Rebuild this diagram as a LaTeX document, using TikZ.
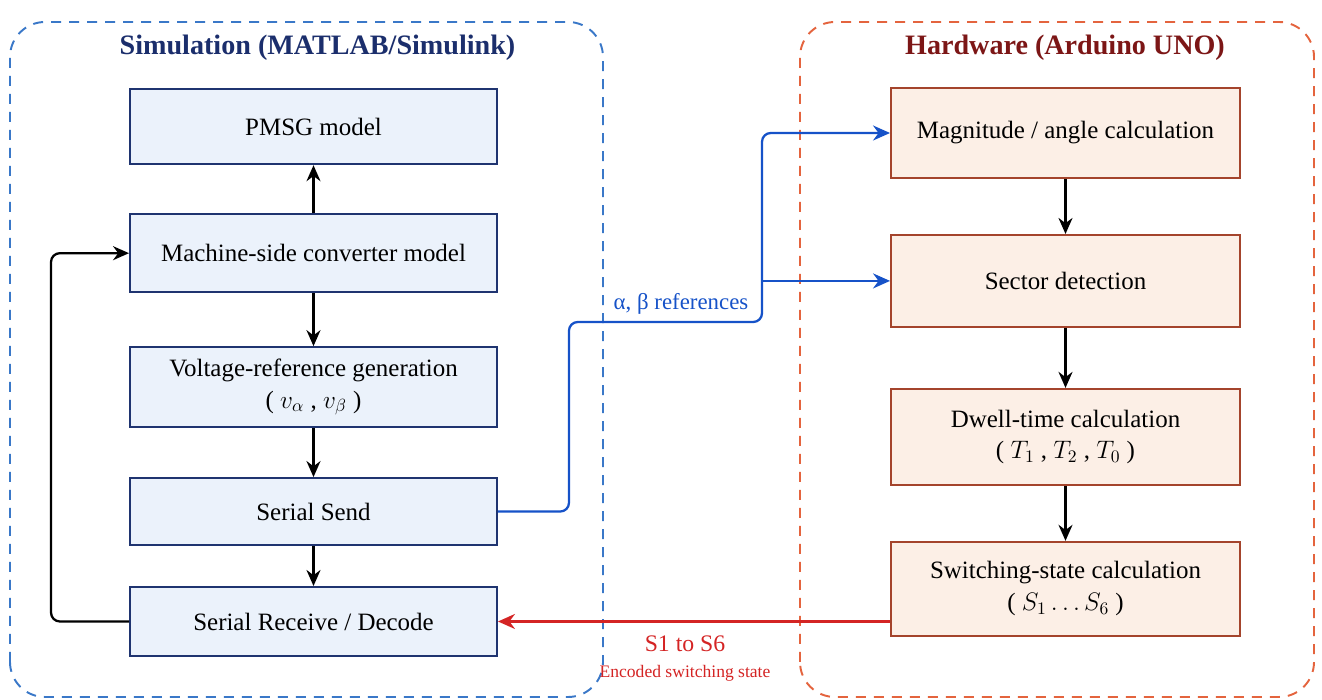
\documentclass[tikz,border=0pt]{standalone}
\usepackage{fontspec}
\setmainfont{Liberation Serif}
\usetikzlibrary{arrows.meta, positioning}

\definecolor{simframe}{HTML}{3A78C8}
\definecolor{hwframe}{HTML}{E4643E}
\definecolor{simedge}{HTML}{1F3470}
\definecolor{simfill}{HTML}{EBF2FB}
\definecolor{hwedge}{HTML}{A4442C}
\definecolor{hwfill}{HTML}{FCEFE6}
\definecolor{simtitle}{HTML}{1B2E6C}
\definecolor{hwtitle}{HTML}{7C1616}
\definecolor{refblue}{HTML}{1652C8}
\definecolor{swred}{HTML}{D42424}

\begin{document}
\begin{tikzpicture}[
        node distance=1cm,
        simbox/.style={draw=simedge, fill=simfill, line width=1.1pt, minimum width=7.34cm, align=center, font=\fontsize{14.2}{18}\selectfont},
        hwbox/.style={draw=hwedge, fill=hwfill, line width=1.1pt, minimum width=6.98cm, minimum height=1.8cm, align=center, font=\fontsize{14.2}{18}\selectfont},
        grouptitle/.style={font=\fontsize{16}{19}\selectfont\bfseries},
        groupframe/.style={line width=1.1pt, dash pattern=on 0.2cm off 0.16cm, rounded corners=0.7cm},
        flow/.style={-{Stealth[length=3.2mm, width=2.8mm]}, line width=1.3pt},
        bigflow/.style={-{Stealth[length=3.4mm, width=3mm]}, line width=1.3pt, rounded corners=5pt}
        ]
        \useasboundingbox (0,0) rectangle (26.44,14);

        % Frames
        \draw[groupframe, draw=simframe] (0.2,0.06) rectangle (12.06,13.56);
        \draw[groupframe, draw=hwframe] (16.0,0.06) rectangle (26.28,13.56);
        \node[grouptitle, text=simtitle] (simtitle) at (6.35,13.05) {Simulation (MATLAB/Simulink)};
        \node[grouptitle, text=hwtitle] (hwtitle) at (21.3,13.05) {Hardware (Arduino UNO)};

        % Simulation side
        \node[simbox, minimum height=1.5cm] (pmsg) at (6.27,11.465) {PMSG model};
        \node[simbox, minimum height=1.56cm, below=0.96cm of pmsg] (machine) {Machine-side converter model};
        \node[simbox, minimum height=1.6cm, below=1.06cm of machine] (vref) {Voltage-reference generation\\( $v_\alpha$ , $v_\beta$ )};
        \node[simbox, minimum height=1.34cm, below=0.98cm of vref] (send) {Serial Send};
        \node[simbox, minimum height=1.38cm, below=0.8cm of send] (recv) {Serial Receive / Decode};

        % Hardware side
        \node[hwbox] (mag) at (21.31,11.34) {Magnitude / angle calculation};
        \node[hwbox, minimum height=1.84cm, below=1.1cm of mag] (sector) {Sector detection};
        \node[hwbox, minimum height=1.92cm, below=1.2cm of sector] (dwell) {Dwell-time calculation\\( $T_1$ , $T_2$ , $T_0$ )};
        \node[hwbox, minimum height=1.88cm, below=1.1cm of dwell] (switch) {Switching-state calculation\\( $S_1 \ldots S_6$ )};

        % Arrows
        \draw[flow] (machine) -- (pmsg);
        \draw[flow] (machine) -- (vref);
        \draw[flow] (vref) -- (send);
        \draw[flow] (send) -- (recv);
        \draw[flow, rounded corners=5pt] (recv.west) -- ++(-1.56,0) |- (machine.west);
        \draw[flow] (mag) -- (sector);
        \draw[flow] (sector) -- (dwell);
        \draw[flow] (dwell) -- (switch);

        \coordinate (split) at (15.24,7.56);
        \draw[bigflow, draw=refblue] (send.east) -- ++(1.42,0) |- (split) |- (mag.west);
        \draw[bigflow, draw=refblue] (split |- sector.west) -- (sector.west);
        \node[text=refblue, font=\fontsize{13}{15}\selectfont, above=1pt] (reflabel) at (13.62,7.56) {α, β references};

        \draw[bigflow, draw=swred] (switch.west |- recv.east) -- (recv.east);
        \node[text=swred, font=\fontsize{13.5}{16}\selectfont] (swlabel) at (13.7,1.12) {S1 to S6};
        \node[text=swred, font=\fontsize{10}{12}\selectfont, below=0.02cm of swlabel] (swnote) {Encoded switching state};

\end{tikzpicture}
\end{document}
